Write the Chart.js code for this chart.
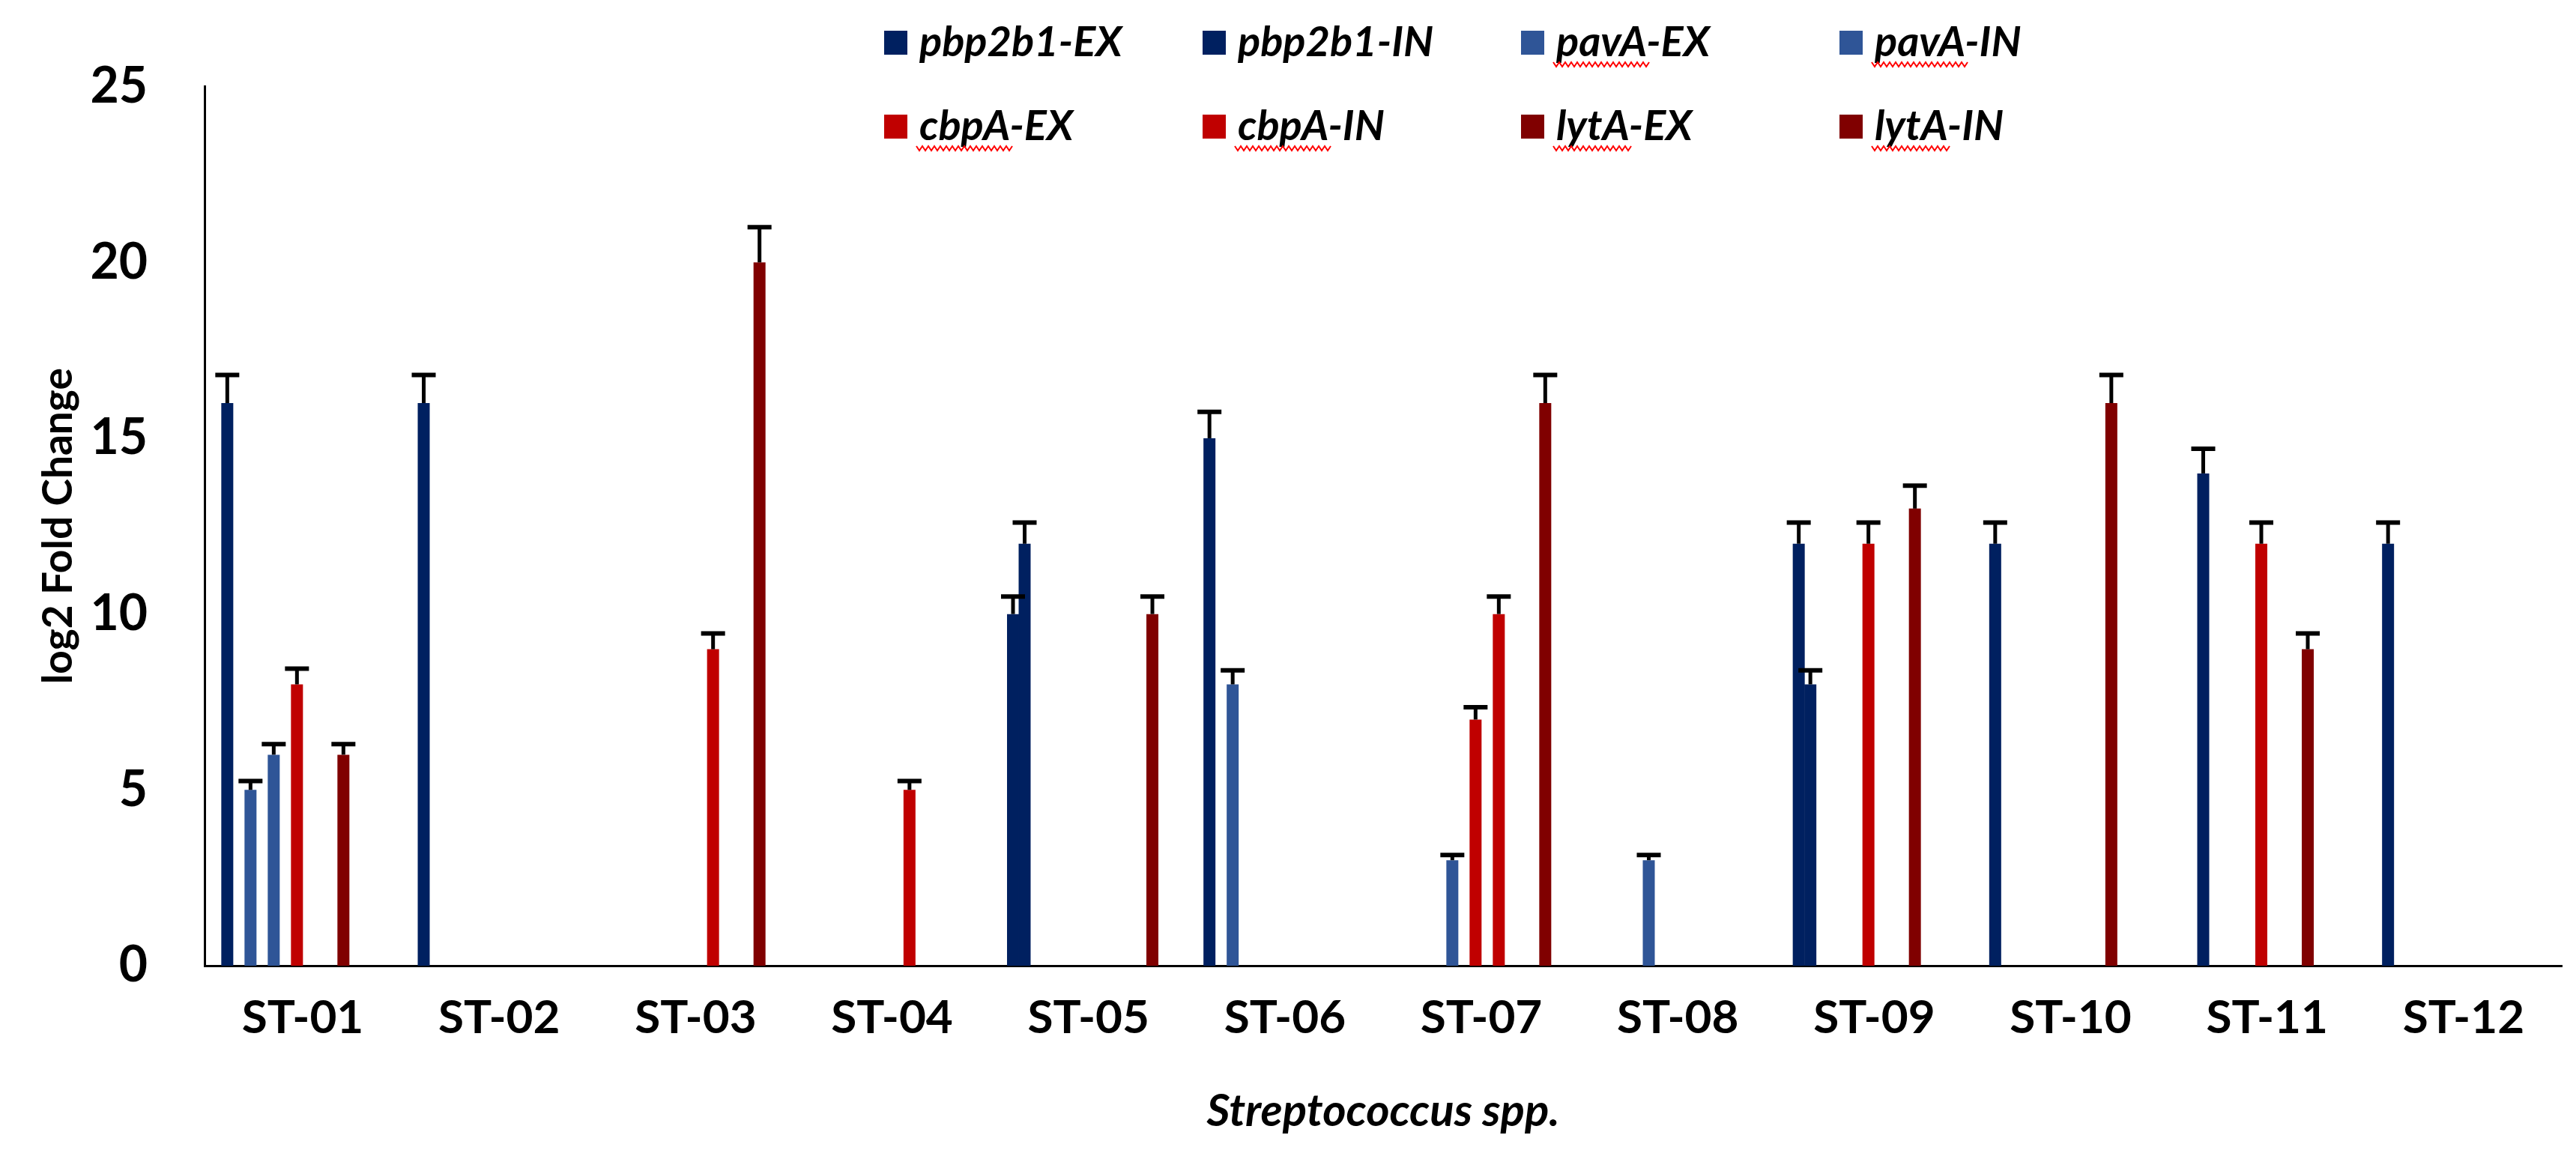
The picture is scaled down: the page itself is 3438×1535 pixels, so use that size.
<!DOCTYPE html>
<html>
<head>
<meta charset="utf-8">
<script src="https://cdn.jsdelivr.net/npm/chart.js@4.4.1/dist/chart.umd.min.js"></script>
<style>
html,body{margin:0;padding:0;background:#ffffff;}
#wrap{width:3438px;height:1535px;position:relative;background:#ffffff;}
</style>
</head>
<body>
<div id="wrap"><canvas id="c"></canvas></div>
<script>
// ---------------- DATA ----------------
const categories = ['ST-01','ST-02','ST-03','ST-04','ST-05','ST-06','ST-07','ST-08','ST-09','ST-10','ST-11','ST-12'];
const seriesNames = ['pbp2b1-EX','pbp2b1-IN','pavA-EX','pavA-IN','cbpA-EX','cbpA-IN','lytA-EX','lytA-IN'];

const pbp2b1EX    = [16, 16, null, null, 10, 15, null, null, 12, 12, null, 12];
const pbp2b1EXErr = [0.8, 0.8, null, null, 0.5, 0.75, null, null, 0.6, 0.6, null, 0.6];
const pbp2b1IN    = [null, null, null, null, 12, null, null, null, 8, null, 14, null];
const pbp2b1INErr = [null, null, null, null, 0.6, null, null, null, 0.4, null, 0.7, null];
const pavAEX      = [5, null, null, null, null, 8, null, null, null, null, null, null];
const pavAEXErr   = [0.25, null, null, null, null, 0.4, null, null, null, null, null, null];
const pavAIN      = [6, null, null, null, null, null, 3, 3, null, null, null, null];
const pavAINErr   = [0.3, null, null, null, null, null, 0.15, 0.15, null, null, null, null];
const cbpAEX      = [8, null, null, null, null, null, 7, null, 12, null, 12, null];
const cbpAEXErr   = [0.45, null, null, null, null, null, 0.35, null, 0.6, null, 0.6, null];
const cbpAIN      = [null, null, 9, 5, null, null, 10, null, null, null, null, null];
const cbpAINErr   = [null, null, 0.45, 0.25, null, null, 0.5, null, null, null, null, null];
const lytAEX      = [6, null, null, null, null, null, null, null, 13, 16, 9, null];
const lytAEXErr   = [0.3, null, null, null, null, null, null, null, 0.65, 0.8, 0.45, null];
const lytAIN      = [null, null, 20, null, 10, null, 16, null, null, null, null, null];
const lytAINErr   = [null, null, 1.0, null, 0.5, null, 0.8, null, null, null, null, null];

const yTickValues = [0, 5, 10, 15, 20, 25];
const yTitle = 'log2 Fold Change';
const xTitle = 'Streptococcus spp.';

// ---------------- STYLE ----------------
const colPbp = '#002060', colPav = '#2F5597', colCbp = '#C00000', colLyt = '#800000';
const FONT = 'Lato, "Open Sans", "DejaVu Sans", sans-serif';

function real(label, data, errors, color, spellMark) {
  return { label, data, errors, backgroundColor: color, borderWidth: 0, isSeries: true, spellMark };
}
function spacer() { return { label: '', data: [], isSeries: false, backgroundColor: 'rgba(0,0,0,0)' }; }

const datasets = [
  real(seriesNames[0], pbp2b1EX, pbp2b1EXErr, colPbp, false),
  real(seriesNames[1], pbp2b1IN, pbp2b1INErr, colPbp, false),
  real(seriesNames[2], pavAEX, pavAEXErr, colPav, true),
  spacer(),
  real(seriesNames[3], pavAIN, pavAINErr, colPav, true),
  spacer(),
  real(seriesNames[4], cbpAEX, cbpAEXErr, colCbp, true),
  spacer(),
  real(seriesNames[5], cbpAIN, cbpAINErr, colCbp, true),
  spacer(),
  real(seriesNames[6], lytAEX, lytAEXErr, colLyt, true),
  spacer(),
  real(seriesNames[7], lytAIN, lytAINErr, colLyt, true),
  spacer()
];

// error bars (upper only, black T)
const errorBars = {
  id: 'errorBars',
  afterDatasetsDraw(chart) {
    const ctx = chart.ctx, ys = chart.scales.y;
    chart.data.datasets.forEach((ds, di) => {
      if (!ds.isSeries) return;
      const meta = chart.getDatasetMeta(di);
      meta.data.forEach((bar, i) => {
        const v = ds.data[i], e = ds.errors[i];
        if (v == null || e == null) return;
        const top = ys.getPixelForValue(v + e);
        ctx.save();
        ctx.strokeStyle = '#000000';
        ctx.lineWidth = 5;
        ctx.beginPath(); ctx.moveTo(bar.x, bar.y); ctx.lineTo(bar.x, top); ctx.stroke();
        ctx.lineWidth = 6;
        ctx.beginPath(); ctx.moveTo(bar.x - 16, top); ctx.lineTo(bar.x + 16, top); ctx.stroke();
        ctx.restore();
      });
    });
  }
};

// legend: 2 rows x 4 columns
const gridLegend = {
  id: 'gridLegend',
  afterDraw(chart) {
    const ctx = chart.ctx;
    const items = chart.data.datasets.filter(d => d.isSeries);
    const x0 = 1180, colW = 425, rowY = [57, 169], box = 31, boxH = 32, textGap = 47;
    ctx.save();
    ctx.font = 'italic bold 56px ' + FONT;
    ctx.textBaseline = 'middle';
    ctx.textAlign = 'left';
    items.forEach((d, k) => {
      const col = k % 4, row = Math.floor(k / 4);
      const bx = x0 + col * colW, cy = rowY[row];
      ctx.fillStyle = d.backgroundColor;
      ctx.fillRect(bx, cy - boxH / 2, box, boxH);
      ctx.fillStyle = '#000000';
      const tx = bx + textGap;
      ctx.fillText(d.label, tx, cy);
      if (d.spellMark) {
        const gene = d.label.split('-')[0];
        const w = ctx.measureText(gene).width + 8;
        ctx.strokeStyle = '#FF0000';
        ctx.lineWidth = 2;
        ctx.beginPath();
        const sy = cy + 29;
        for (let px = 0; px <= w; px += 4) {
          const yy = sy + ((px / 4) % 2 === 0 ? -3 : 3);
          if (px === 0) ctx.moveTo(tx - 4 + px, yy); else ctx.lineTo(tx - 4 + px, yy);
        }
        ctx.stroke();
      }
    });
    ctx.restore();
  }
};

function build() {
  new Chart(document.getElementById('c'), {
    type: 'bar',
    data: { labels: categories, datasets },
    plugins: [errorBars, gridLegend],
    options: {
      responsive: true,
      maintainAspectRatio: false,
      animation: false,
      devicePixelRatio: 1,
      layout: { padding: { top: 99, right: 19, left: 0, bottom: 0 } },
      datasets: { bar: { categoryPercentage: 0.8277, barPercentage: 1.032 } },
      plugins: { legend: { display: false }, tooltip: { enabled: false }, title: { display: false } },
      scales: {
        x: {
          grid: { display: false, drawTicks: false },
          border: { display: true, color: '#000000', width: 3 },
          ticks: { color: '#000000', font: { family: FONT, size: 62, weight: 'bold' }, padding: 33, maxRotation: 0, autoSkip: false },
          title: { display: true, text: xTitle, color: '#000000', font: { family: FONT, size: 60, weight: 'bold', style: 'italic' }, padding: { top: 0, bottom: 15 } },
          afterFit(s) { s.height = 246; }
        },
        y: {
          min: 0, max: 25,
          grid: { display: false, drawTicks: false },
          border: { display: true, color: '#000000', width: 3 },
          afterBuildTicks(s) { s.ticks = yTickValues.map(v => ({ value: v })); },
          ticks: { color: '#000000', font: { family: FONT, size: 66, weight: 'bold' }, padding: 76 },
          title: { display: true, text: yTitle, color: '#000000', font: { family: FONT, size: 55, weight: 'bold' }, padding: { top: 45, bottom: 0 } },
          afterFit(s) { s.width = 273; }
        }
      }
    }
  });
}

if (document.fonts && document.fonts.load) {
  Promise.all([
    document.fonts.load('bold 58px Lato'),
    document.fonts.load('italic bold 52px Lato')
  ]).then(build, build);
} else { build(); }
</script>
</body>
</html>
